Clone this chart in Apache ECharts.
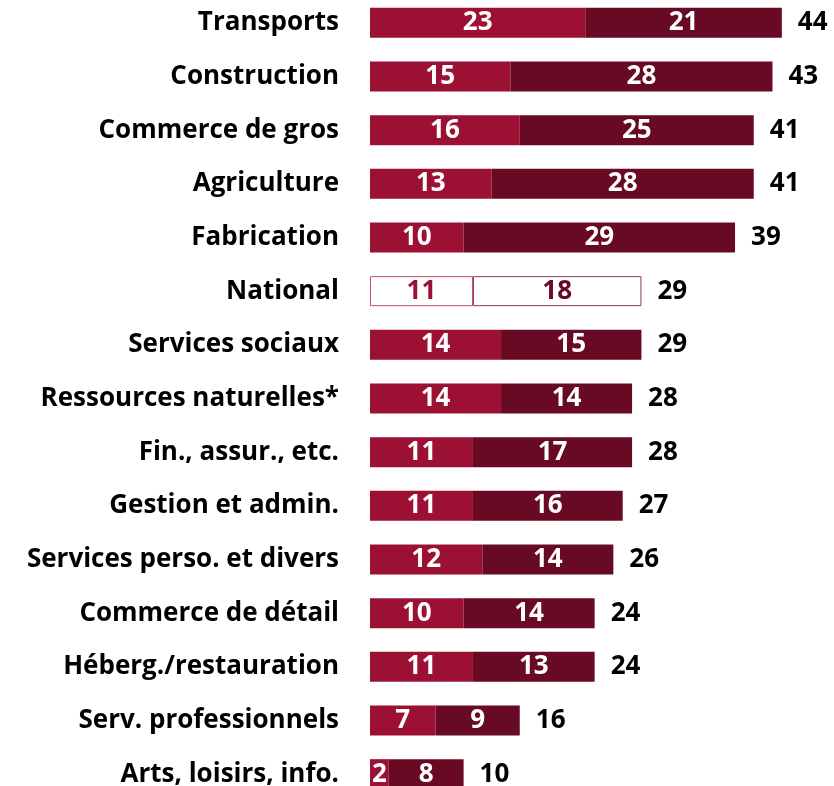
<!DOCTYPE html>
<html>
<head>
<meta charset="utf-8">
<script src="https://cdn.jsdelivr.net/npm/echarts@6/dist/echarts.min.js"></script>
<style>
  html, body { margin: 0; padding: 0; background: #fff; }
  #chart { width: 834px; height: 786px; }
</style>
</head>
<body>
<div id="chart"></div>
<script>
  var categories = ['Transports', 'Construction', 'Commerce de gros', 'Agriculture', 'Fabrication',
    'National', 'Services sociaux', 'Ressources naturelles*', 'Fin., assur., etc.', 'Gestion et admin.',
    'Services perso. et divers', 'Commerce de détail', 'Héberg./restauration', 'Serv. professionnels',
    'Arts, loisirs, info.'];
  var firstPart = [23, 15, 16, 13, 10, 11, 14, 14, 11, 11, 12, 10, 11, 7, 2];
  var secondPart = [21, 28, 25, 28, 29, 18, 15, 14, 17, 16, 14, 14, 13, 9, 8];
  var totals = [44, 43, 41, 41, 39, 29, 29, 28, 28, 27, 26, 24, 24, 16, 10];

  var colorA = '#9C1034';
  var colorB = '#690A24';
  var font = '"Open Sans", "Liberation Sans", Arial, sans-serif';
  var fs = 26;

  function build(values, color, border) {
    return values.map(function (v, i) {
      if (categories[i] === 'National') {
        return {
          value: v,
          itemStyle: { color: '#fff', borderColor: border, borderWidth: 1 },
          label: { color: color }
        };
      }
      return v;
    });
  }

  var chart = echarts.init(document.getElementById('chart'));
  chart.setOption({
    animation: false,
    grid: { left: 370, top: -4, width: 468, height: 805, outerBoundsMode: 'none' },
    xAxis: { type: 'value', min: 0, max: 50, show: false },
    yAxis: {
      type: 'category',
      data: categories,
      inverse: true,
      axisLine: { show: false },
      axisTick: { show: false },
      axisLabel: { margin: 31, color: '#000', fontWeight: 'bold', fontSize: fs, fontFamily: font }
    },
    series: [
      {
        type: 'bar', stack: 'a', barWidth: 30,
        data: build(firstPart, colorA, '#C0506A'),
        itemStyle: { color: colorA },
        label: { show: true, position: 'inside', color: '#fff', fontWeight: 'bold', fontSize: fs, fontFamily: font }
      },
      {
        type: 'bar', stack: 'a', barWidth: 30,
        data: build(secondPart, colorB, '#8A3A50'),
        itemStyle: { color: colorB },
        label: { show: true, position: 'inside', color: '#fff', fontWeight: 'bold', fontSize: fs, fontFamily: font }
      },
      {
        type: 'bar', barWidth: 30, barGap: '-100%', z: 1,
        data: totals,
        itemStyle: { color: 'rgba(0,0,0,0)' },
        label: { show: true, position: 'right', distance: 16, color: '#000', fontWeight: 'bold', fontSize: fs, fontFamily: font }
      }
    ]
  });
</script>
</body>
</html>
